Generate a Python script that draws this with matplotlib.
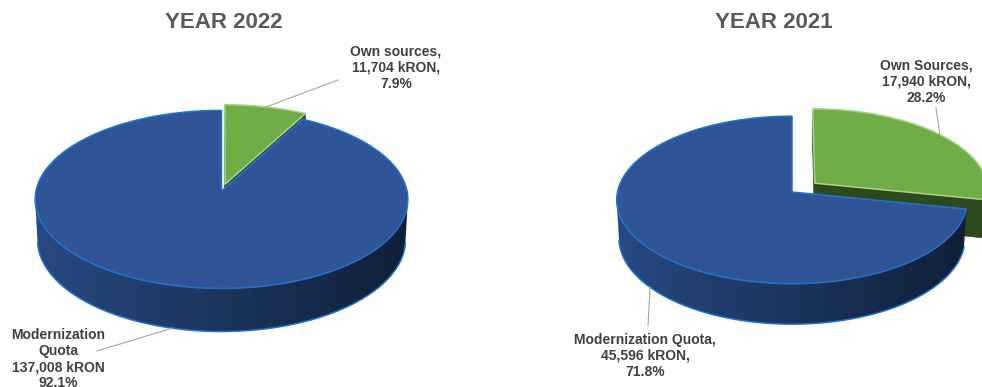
import numpy as np
import matplotlib.pyplot as plt
from matplotlib.patches import Polygon
from matplotlib.colors import to_rgb

plt.rcParams['font.family'] = ['Liberation Sans', 'DejaVu Sans']

# funding split, kRON
years = ['YEAR 2022', 'YEAR 2021']
own_sources = [11704, 17940]
modern_quota = [137008, 45596]
own_labels = ['Own sources,\n11,704 kRON,\n7.9%', 'Own Sources,\n17,940 kRON,\n28.2%']
quota_labels = ['Modernization\nQuota\n137,008 kRON\n92.1%', 'Modernization Quota,\n45,596 kRON,\n71.8%']

green = '#70AD47'
blue = '#2F5597'
edge_blue = '#1f74cc'
edge_green = '#a8d48a'

# view of the 3-d cylinder
TILT = np.radians(28.4)
DIST = 9.3
THICK = 0.25
ca, sa = np.cos(TILT), np.sin(TILT)
eye = np.array([0.0, DIST * sa, -DIST * ca])


def proj(pts, cx, cy, s):
    pts = np.asarray(pts, dtype=float)
    x, y, z = pts[:, 0], pts[:, 1], pts[:, 2]
    v = y * ca + z * sa
    d = DIST + z * ca - y * sa
    return np.column_stack([cx + s * x * DIST / d, cy - s * v * DIST / d])


def rim(phi, y):
    return np.array([np.cos(phi), y, np.sin(phi)])


def shade_of(nx):
    return 0.615 - 0.245 * nx


def pie3d(ax, vals, cols, edges, explode, cx, cy, s):
    vals = np.asarray(vals, dtype=float)
    fr = vals / vals.sum()
    start = 90.0
    sides, tops, anchors = [], [], []
    for f, col, ec, ex in zip(fr, cols, edges, explode):
        a1, a2 = start - 360 * f, start
        start = a1
        mid = np.radians((a1 + a2) / 2)
        off = np.array([ex * np.cos(mid), 0, ex * np.sin(mid)])
        rgb = np.array(to_rgb(col))
        phis = np.radians(np.linspace(a1, a2, max(int(a2 - a1) * 2, 2) + 1))

        # curved outer wall, front-facing part only
        vis = [p for p in phis
               if np.array([np.cos(p), 0, np.sin(p)]) @ (eye - off - rim(p, -THICK / 2)) > 0]
        if len(vis) > 1:
            upper = np.array([rim(p, 0) for p in vis]) + off
            lower = np.array([rim(p, -THICK) for p in vis]) + off
            wall = np.vstack([proj(upper, cx, cy, s), proj(lower[::-1], cx, cy, s)])
            c = np.vstack([upper, lower]).mean(axis=0)
            ctr = proj([off], cx, cy, s)[0]
            sides.append((np.linalg.norm(eye - c), 'wall', wall, (rgb, ctr[0], s),
                          proj(lower, cx, cy, s) if col == blue else None, ec))

        # flat cut faces
        for ang, nang in ((a1, a1 - 90), (a2, a2 + 90)):
            r, rn = np.radians(ang), np.radians(nang)
            n = np.array([np.cos(rn), 0, np.sin(rn)])
            quad = np.array([[0, 0, 0], rim(r, 0), rim(r, -THICK), [0, -THICK, 0]]) + off
            c = quad.mean(axis=0)
            if n @ (eye - c) <= 0:
                continue
            sides.append((np.linalg.norm(eye - c), 'flat', proj(quad, cx, cy, s), rgb * 0.42, None, None))

        top = np.vstack([[0, 0, 0], [rim(p, 0) for p in phis]]) + off
        tops.append((np.linalg.norm(eye - top.mean(axis=0)), proj(top, cx, cy, s), col, ec))
        anchors.append((proj([rim(mid, 0) + off], cx, cy, s)[0],
                        proj([rim(mid, -THICK) + off], cx, cy, s)[0]))

    z = 1.0
    for _, kind, poly, c, bot, ec in sorted(sides, key=lambda t: -t[0]):
        if kind == 'flat':
            ax.add_patch(Polygon(poly, closed=True, fc=c, ec=c, lw=0.5, zorder=z))
        else:
            rgb, x0, sc = c
            xa, xb = poly[:, 0].min(), poly[:, 0].max()
            ya, yb = poly[:, 1].min(), poly[:, 1].max()
            xs = np.linspace(xa, xb, 300)
            sh = shade_of(np.clip((xs - x0) / sc, -1, 1))
            img = (rgb[None, None, :] * sh[None, :, None]).repeat(2, axis=0)
            clip = Polygon(poly, closed=True, fc='none', ec='none', transform=ax.transData)
            im = ax.imshow(img, extent=(xa, xb, yb, ya), aspect='auto', interpolation='bilinear',
                           zorder=z)
            im.set_clip_path(clip)
            if bot is not None:
                ax.plot(bot[:, 0], bot[:, 1], color=ec, lw=1.1, zorder=z + 0.005)
        z += 0.01
    for _, poly, c, ec in sorted(tops, key=lambda t: -t[0]):
        ax.add_patch(Polygon(poly, closed=True, fc=c, ec=ec, lw=1.1, joinstyle='round', zorder=z))
        z += 0.01
    return anchors


fig = plt.figure(figsize=(9.82, 3.87), dpi=100)
ax = fig.add_axes([0, 0, 1, 1])

centers = [(221.5, 191), (792, 192)]
scales = [185.5, 174.5]
explodes = [0.08, 0.17]
title_x = [224, 774]
own_text = [(396, 68), (926, 82)]
own_tip = [(338, 80), (936, 108)]
quota_text = [(58, 359), (645, 356)]
quota_tip = [(97, 351), (648, 326)]

for i in range(2):
    cx, cy = centers[i]
    anc = pie3d(ax, [own_sources[i], modern_quota[i]], [green, blue], [edge_green, edge_blue],
                [explodes[i], 0.0], cx, cy, scales[i])
    ax.text(title_x[i], 22, years[i], ha='center', va='center', fontsize=16,
            fontweight='bold', color='#595959', zorder=10)

    top_pt = anc[0][0]
    ax.plot([top_pt[0], own_tip[i][0]], [top_pt[1], own_tip[i][1]], color='#a6a6a6', lw=0.8, zorder=9)
    ax.text(own_text[i][0], own_text[i][1], own_labels[i], ha='center', va='center',
            fontsize=10, fontweight='bold', color='#404040', linespacing=1.2, zorder=10)

    bot_pt = anc[1][1]
    ax.plot([bot_pt[0], quota_tip[i][0]], [bot_pt[1], quota_tip[i][1]], color='#a6a6a6', lw=0.8, zorder=9)
    ax.text(quota_text[i][0], quota_text[i][1], quota_labels[i], ha='center', va='center',
            fontsize=10, fontweight='bold', color='#404040', linespacing=1.2, zorder=10)

ax.set_xlim(0, 982)
ax.set_ylim(387, 0)
ax.axis('off')

fig.savefig('out.png', dpi=100)
